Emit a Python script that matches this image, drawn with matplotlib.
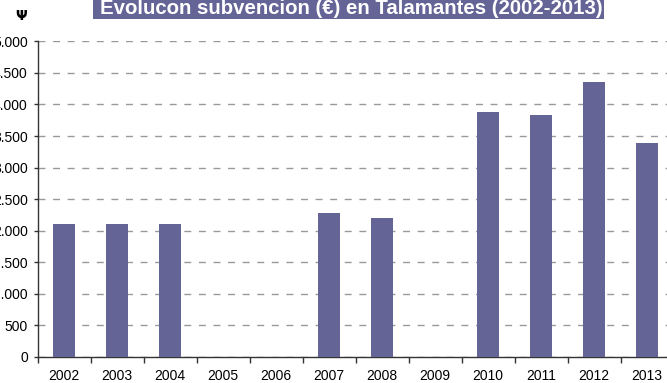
import matplotlib
matplotlib.use("Agg")
import matplotlib.pyplot as plt
from matplotlib.patches import Rectangle
from matplotlib.ticker import FuncFormatter, MultipleLocator

years = ["2002", "2003", "2004", "2005", "2006", "2007",
         "2008", "2009", "2010", "2011", "2012", "2013"]
subvencion = [2100, 2100, 2100, 0, 0, 2280, 2200, 0, 3880, 3830, 4350, 3390]

BAR = "#646497"
W, H = 667, 383

plt.rcParams['font.family'] = ['Liberation Sans', 'DejaVu Sans']

fig = plt.figure(figsize=(W / 100, H / 100), dpi=100)

# plot area in pixels: left 37.5, right 673.5 (runs past the edge), y0 357, y5000 41.3
ax = fig.add_axes([37.5 / W, 1 - 357 / H, 636 / W, (357 - 41.3) / H])

x = list(range(len(years)))
ax.bar(x, subvencion, width=0.4, color=BAR, zorder=3)

ax.set_xlim(-0.5, len(years) - 0.5)
ax.set_ylim(0, 5000)
ax.yaxis.set_major_locator(MultipleLocator(500))
ax.yaxis.set_major_formatter(FuncFormatter(lambda v, p: f"{int(v):,}".replace(",", ".")))

ax.set_xticks(x)
ax.set_xticklabels(years)
ax.set_xticks([i + 0.5 for i in range(-1, len(years))], minor=True)
ax.tick_params(axis='x', which='major', length=0, pad=8.5, labelsize=10)
ax.tick_params(axis='x', which='minor', length=4, width=1, color='#333333')
ax.tick_params(axis='y', length=3, width=1, pad=4, labelsize=10, color='#333333')

ax.grid(axis='y', color='#999999', linewidth=1.0, linestyle=(0, (5, 5.5)), zorder=0)

for s in ['top', 'right']:
    ax.spines[s].set_visible(False)
for s in ['left', 'bottom']:
    ax.spines[s].set_color('#333333')
    ax.spines[s].set_linewidth(1.0)

# title banner
fig.patches.append(Rectangle((92.7 / W, 1 - 19 / H), (604 - 92.7) / W, 30 / H,
                             transform=fig.transFigure, facecolor=BAR,
                             edgecolor='none'))
fig.text(351 / W, 1 - 13.5 / H, "Evolucon subvencion (€) en Talamantes (2002-2013)",
         ha='center', va='baseline', color='white', fontsize=14.7, fontweight='bold')

# unit marker above the y axis
fig.text(21 / W, 1 - 16.5 / H, "Ψ", ha='center', va='center', fontsize=10,
         fontweight='bold', family=['DejaVu Sans'])

fig.savefig("out.png", dpi=100)
